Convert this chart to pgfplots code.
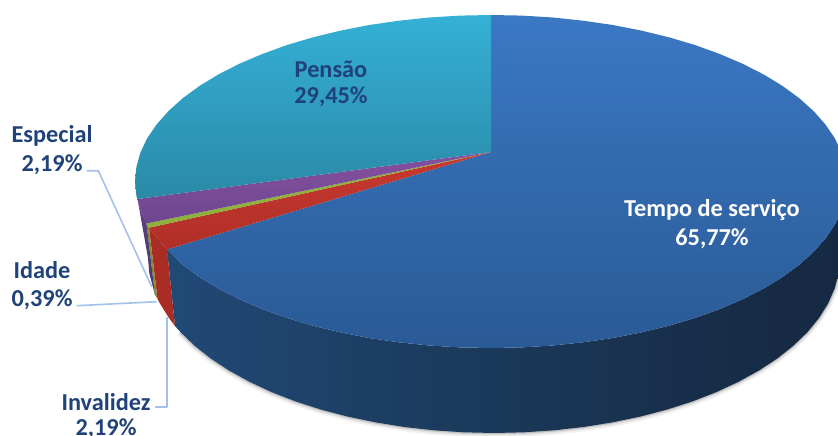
\documentclass[border=0pt]{standalone}
\usepackage{pgfplots}
\pgfplotsset{compat=1.18}
\usepackage{pgfplotstable}
\usepackage{fontspec}
\setmainfont{Carlito}
\definecolor{lab}{HTML}{1F4279}
\definecolor{leader}{HTML}{A3C2EA}
\definecolor{sa}{HTML}{2C5E96}
\definecolor{sb}{HTML}{28568A}
\definecolor{sc}{HTML}{1F4570}
\definecolor{sd}{HTML}{1A3858}
\definecolor{se}{HTML}{162A44}
\definecolor{sf}{HTML}{15263E}
\definecolor{redside}{HTML}{A92D25}
\definecolor{greenside}{HTML}{8A8A30}
\definecolor{purs}{HTML}{5F4086}
\definecolor{pursb}{HTML}{463A66}
\definecolor{bluet}{HTML}{3B78C4}
\definecolor{blueb}{HTML}{2A5A96}
\definecolor{redt}{HTML}{C8392F}
\definecolor{redb}{HTML}{B02F28}
\definecolor{greent}{HTML}{8FB03A}
\definecolor{purt}{HTML}{85509F}
\definecolor{purb}{HTML}{6E4690}
\definecolor{cyant}{HTML}{35B0D6}
\definecolor{cyanb}{HTML}{2A89A6}
\pgfdeclarehorizontalshading{sidefill}{100bp}{
 color(0bp)=(sa);color(12bp)=(sb);color(30bp)=(sc);color(50bp)=(sd);color(70bp)=(se);color(100bp)=(sf)}
\pgfplotstableread{
x y
840 258
838.7 273.3
834.7 288.4
828.2 303.3
819.1 317.9
807.6 332
793.6 345.5
777.4 358.4
759 370.5
738.7 381.7
716.4 392.1
692.5 401.4
667 409.6
640.2 416.6
612.3 422.4
583.5 427
554.1 430.3
524.2 432.3
494 433
463.8 432.3
433.9 430.3
404.5 427
375.7 422.4
347.8 416.6
321 409.6
295.5 401.4
271.6 392.1
249.3 381.7
229 370.5
210.6 358.4
194.4 345.5
180.4 332
}\botarc
\begin{document}
\begin{tikzpicture}
\path[use as bounding box,clip] (0,0) rectangle (838pt,436pt);
\begin{axis}[at={(0,0)},anchor=south west,scale only axis,width=838pt,height=436pt,
 xmin=0,xmax=838,ymin=0,ymax=436,y dir=reverse,hide axis,no markers,
 every axis plot/.append style={forget plot,line join=round}]
% soft shadow
\addplot[draw=black,opacity=0.05,line width=7pt,yshift=-1pt] table {\botarc};
\addplot[draw=black,opacity=0.08,line width=4.5pt,yshift=-0.5pt] table {\botarc};
\addplot[draw=black,opacity=0.14,line width=2.5pt] table {\botarc};
% side of Tempo de servico
\addplot[draw=none,shading=sidefill] coordinates {
(847,181.5)(845.6,196)(841.6,210.4)(834.9,224.6)(825.5,238.4)(813.6,251.9)(799.3,264.75)(782.6,277)(763.7,288.5)(742.7,299.2)(719.8,309)(695.2,317.9)(669,325.7)(641.4,332.4)(612.8,338)(583.1,342.3)(552.8,345.5)(522,347.4)(491,348)(460,347.4)(429.2,345.5)(398.9,342.3)(369.2,338)(340.6,332.4)(313,325.7)(286.8,317.9)(262.2,309)(239.3,299.2)(218.3,288.5)(199.4,277)(182.7,264.75)(167,249.5)
(175,326)(180.4,332)(194.4,345.5)(210.6,358.4)(229,370.5)(249.3,381.7)(271.6,392.1)(295.5,401.4)(321,409.6)(347.8,416.6)(375.7,422.4)(404.5,427)(433.9,430.3)(463.8,432.3)(494,433)(524.2,432.3)(554.1,430.3)(583.5,427)(612.3,422.4)(640.2,416.6)(667,409.6)(692.5,401.4)(716.4,392.1)(738.7,381.7)(759,370.5)(777.4,358.4)(793.6,345.5)(807.6,332)(819.1,317.9)(828.2,303.3)(834.7,288.4)(838.7,273.3)(840,258)
} -- cycle;
% side of Invalidez
\addplot[draw=none,fill=redside] coordinates {(149,227.7)(157.1,238.4)(167,249.5)(175,326)(168.9,317.9)(159.8,303.3)(157.5,299)} -- cycle;
% side of Idade
\addplot[draw=none,fill=greenside] coordinates {(146.5,223.5)(149,227.7)(157.5,299)(155,295)} -- cycle;
% side of Especial
\addplot[draw=none,top color=purs,bottom color=pursb] coordinates {(137.5,199)(140.4,210.4)(146.5,223.5)(155,295)(153.3,288.4)(149.3,273.3)(148,258)} -- cycle;
% top of Tempo de servico
\addplot[draw=none,top color=bluet,bottom color=blueb] coordinates {
(491,152)(491,15)(522,15.6)(552.8,17.5)(583.1,20.7)(612.8,25)(641.4,30.6)(669,37.3)(695.2,45.1)(719.8,54)(742.7,63.8)(763.7,74.5)(782.6,86)(799.3,98.25)(813.6,111.1)(825.5,124.6)(834.9,138.4)(841.6,152.6)(845.6,167)(847,181.5)(845.6,196)(841.6,210.4)(834.9,224.6)(825.5,238.4)(813.6,251.9)(799.3,264.75)(782.6,277)(763.7,288.5)(742.7,299.2)(719.8,309)(695.2,317.9)(669,325.7)(641.4,332.4)(612.8,338)(583.1,342.3)(552.8,345.5)(522,347.4)(491,348)(460,347.4)(429.2,345.5)(398.9,342.3)(369.2,338)(340.6,332.4)(313,325.7)(286.8,317.9)(262.2,309)(239.3,299.2)(218.3,288.5)(199.4,277)(182.7,264.75)(167,249.5)
} -- cycle;
% top of Invalidez
\addplot[draw=none,top color=redt,bottom color=redb] coordinates {(491,152)(167,249.5)(157.1,238.4)(149,227.7)} -- cycle;
% top of Idade
\addplot[draw=none,fill=greent] coordinates {(491,152)(149,227.7)(146.5,223.5)} -- cycle;
% top of Especial
\addplot[draw=none,top color=purt,bottom color=purb] coordinates {(491,152)(146.5,223.5)(140.4,210.4)(137.5,199)} -- cycle;
% top of Pensao
\addplot[draw=none,top color=cyant,bottom color=cyanb] coordinates {
(491,152)(137.5,199)(136.4,196)(135,181.5)(136.4,167)(140.4,152.6)(147.1,138.4)(156.5,124.6)(168.4,111.1)(182.7,98.25)(199.4,86)(218.3,74.5)(239.3,63.8)(262.2,54)(286.8,45.1)(313,37.3)(340.6,30.6)(369.2,25)(398.9,20.7)(429.2,17.5)(460,15.6)(491,15)
} -- cycle;
% leader lines
\addplot[leader,line width=1.6pt] coordinates {(86.7,170.7)(98.3,170.7)(151.7,286.7)};
\addplot[leader,line width=1.6pt] coordinates {(76.7,305.7)(156.7,301.7)};
\addplot[leader,line width=1.6pt] coordinates {(155,407)(166.7,407)(166.7,316.7)};
% labels
\def\lbl{\fontsize{24.3}{28}\selectfont\bfseries}
\node[text=lab,font=\lbl] at (axis cs:52,136) {Especial};
\node[text=lab,font=\lbl] at (axis cs:52,165) {2,19\%};
\node[text=lab,font=\lbl] at (axis cs:42,270) {Idade};
\node[text=lab,font=\lbl] at (axis cs:42,300) {0,39\%};
\node[text=lab,font=\lbl] at (axis cs:106,402) {Invalidez};
\node[text=lab,font=\lbl] at (axis cs:106,429) {2,19\%};
\node[text=lab,font=\lbl] at (axis cs:331,69) {Pensão};
\node[text=lab,font=\lbl] at (axis cs:331,97) {29,45\%};
\node[text=white,font=\lbl] at (axis cs:712,210) {Tempo de serviço};
\node[text=white,font=\lbl] at (axis cs:712,239) {65,77\%};
\end{axis}
\end{tikzpicture}
\end{document}
